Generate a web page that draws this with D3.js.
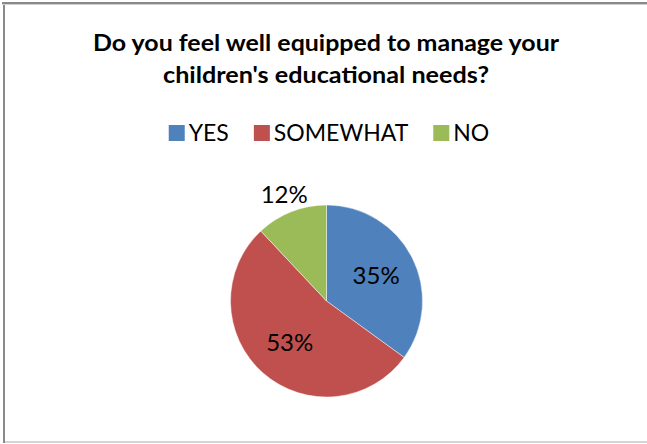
<!DOCTYPE html>
<html>
<head>
<meta charset="utf-8">
<script src="https://cdn.jsdelivr.net/npm/d3@7"></script>
<style>
  html, body { margin: 0; padding: 0; background: #fff; }
  svg { display: block; }
  text { font-family: Lato, "Open Sans", "Liberation Sans", sans-serif; fill: #000; }
</style>
</head>
<body>
<svg id="chart" width="647" height="444"></svg>
<script>
const titleLines = ["Do you feel well equipped to manage your", "children's educational needs?"];
const categories = ["YES", "SOMEWHAT", "NO"];
const values = [35, 53, 12];
const colors = ["#4F81BD", "#C0504D", "#9BBB59"];

const svg = d3.select("#chart");
const W = 647, H = 444;

// frame
svg.append("line").attr("x1", 3).attr("y1", 442).attr("x2", W).attr("y2", 442)
  .attr("stroke", "#d4d4d4").attr("stroke-width", 2);
svg.append("line").attr("x1", 2).attr("y1", 3).attr("x2", W).attr("y2", 3)
  .attr("stroke", "#8a8a8a").attr("stroke-width", 2);
svg.append("line").attr("x1", 4).attr("y1", 2).attr("x2", 4).attr("y2", 443)
  .attr("stroke", "#8a8a8a").attr("stroke-width", 2);
svg.append("line").attr("x1", 2).attr("y1", 4.5).attr("x2", W).attr("y2", 4.5)
  .attr("stroke", "#cfcfcf").attr("stroke-width", 1);

// title
const titleWidths = [466, 326];
const title = svg.append("g");
titleLines.forEach((t, i) => {
  title.append("text")
    .attr("x", 326)
    .attr("y", 51 + i * 32)
    .attr("text-anchor", "middle")
    .attr("font-size", 23.5)
    .attr("font-weight", "bold")
    .attr("textLength", titleWidths[i])
    .attr("lengthAdjust", "spacingAndGlyphs")
    .text(t);
});

// legend
const legendFont = 23, sq = 16, gapText = 4, gapItem = 25;
const legend = svg.append("g");
let x = 0;
categories.forEach((c, i) => {
  const g = legend.append("g");
  g.append("rect").attr("x", x).attr("y", -sq).attr("width", sq).attr("height", sq)
    .attr("fill", colors[i]);
  const t = g.append("text").attr("x", x + sq + gapText).attr("y", 0)
    .attr("font-size", legendFont).attr("fill", "#1a1a1a").text(c);
  const tl = t.node().getComputedTextLength();
  x += sq + gapText + tl + gapItem;
});
const legendWidth = x - gapItem;
legend.attr("transform", `translate(${329 - legendWidth / 2}, 141)`);

// pie
const cx = 326.5, cy = 301, r = 96;
const pie = d3.pie().sort(null).value(d => d)(values);
const arc = d3.arc().innerRadius(0).outerRadius(r);
const g = svg.append("g").attr("transform", `translate(${cx},${cy})`);
g.selectAll("path").data(pie).join("path")
  .attr("d", arc)
  .attr("fill", (d, i) => colors[i])
  .attr("stroke", "rgba(255,255,255,0.45)")
  .attr("stroke-width", 1);

const inner = d3.arc().innerRadius(r * 0.58).outerRadius(r * 0.58);
const outer = d3.arc().innerRadius(r + 19).outerRadius(r + 19);
const total = d3.sum(values);
g.selectAll("text.lbl").data(pie).join("text")
  .attr("class", "lbl")
  .attr("transform", d => {
    const c = (d.value / total < 0.15 ? outer : inner).centroid(d);
    return `translate(${c[0]},${c[1]})`;
  })
  .attr("text-anchor", "middle")
  .attr("dy", "0.36em")
  .attr("font-size", 24)
  .attr("fill", "#1a1a1a")
  .text(d => Math.round(d.value / total * 100) + "%");
</script>
</body>
</html>
